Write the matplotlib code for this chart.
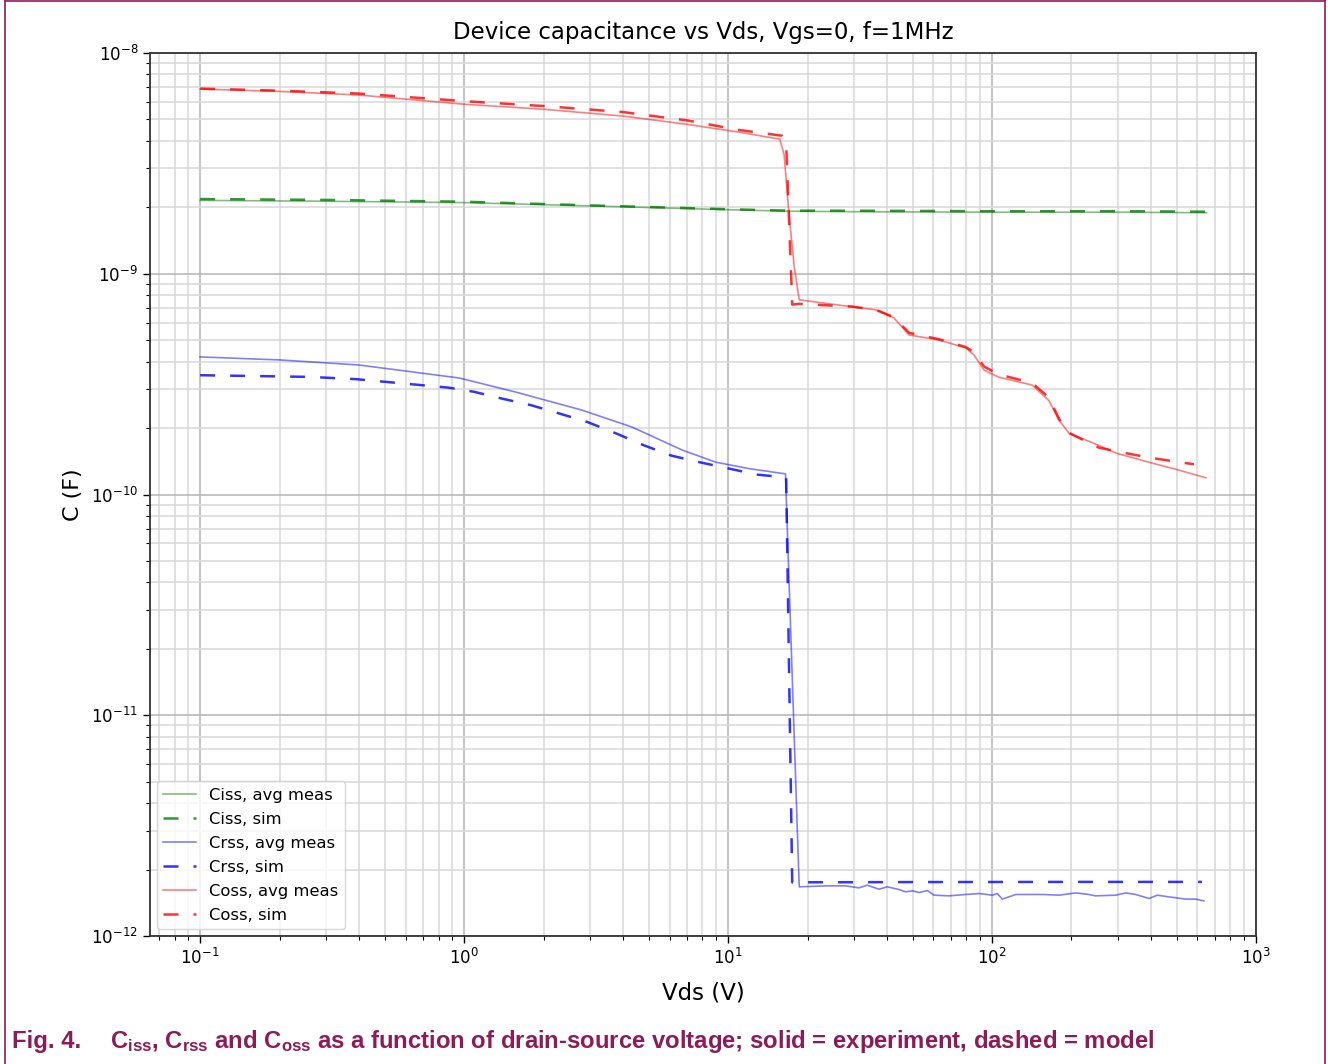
import matplotlib
matplotlib.use("Agg")
import matplotlib.pyplot as plt
from matplotlib.lines import Line2D

# ---------------- data ----------------
ciss_meas_v = [0.1, 0.3, 1.0, 3.0, 10.0, 17.0, 30.0, 100.0, 300.0, 650.0]
ciss_meas_c = [2.15e-9, 2.13e-9, 2.10e-9, 2.03e-9, 1.95e-9, 1.92e-9, 1.91e-9, 1.90e-9, 1.90e-9, 1.89e-9]
ciss_sim_v = [0.1, 0.3, 1.0, 3.0, 10.0, 17.0, 30.0, 100.0, 300.0, 650.0]
ciss_sim_c = [2.18e-9, 2.16e-9, 2.12e-9, 2.04e-9, 1.96e-9, 1.93e-9, 1.93e-9, 1.92e-9, 1.92e-9, 1.91e-9]

crss_meas_v = [0.1, 0.2, 0.4, 0.96, 1.57, 2.8, 4.33, 6.7, 9.0, 12.0, 16.5,
               18.6, 23.4, 27.9, 31.3, 33.7, 37.3, 40.1, 44.4, 47.1, 49.9, 52.9, 56.9,
               60.3, 68.7, 79.4, 89.3, 100.3, 104.7, 109.4, 123, 155, 179.5, 207.5,
               232.8, 247, 294, 320.6, 350, 393.5, 422.7, 468, 541.5, 590.6, 635]
crss_meas_c = [4.2e-10, 4.07e-10, 3.86e-10, 3.37e-10, 2.91e-10, 2.41e-10, 2.02e-10, 1.59e-10,
               1.40e-10, 1.31e-10, 1.24e-10,
               1.67e-12, 1.687e-12, 1.687e-12, 1.652e-12, 1.699e-12, 1.629e-12, 1.67e-12,
               1.624e-12, 1.585e-12, 1.602e-12, 1.574e-12, 1.607e-12, 1.531e-12, 1.52e-12,
               1.542e-12, 1.557e-12, 1.531e-12, 1.557e-12, 1.469e-12, 1.542e-12, 1.542e-12,
               1.531e-12, 1.567e-12, 1.542e-12, 1.52e-12, 1.531e-12, 1.567e-12, 1.542e-12,
               1.479e-12, 1.531e-12, 1.504e-12, 1.469e-12, 1.469e-12, 1.442e-12]
crss_sim_v = [0.1, 0.26, 0.39, 0.87, 1.09, 1.39, 1.79, 2.29, 2.93, 3.77, 4.8, 6.1, 7.8,
              10.1, 12.9, 16.0, 16.6, 17.5, 50.0, 200.0, 624.0]
crss_sim_c = [3.47e-10, 3.41e-10, 3.33e-10, 3.05e-10, 2.92e-10, 2.72e-10, 2.54e-10, 2.33e-10,
              2.13e-10, 1.89e-10, 1.67e-10, 1.50e-10, 1.40e-10, 1.31e-10, 1.23e-10, 1.20e-10,
              1.19e-10, 1.75e-12, 1.755e-12, 1.758e-12, 1.758e-12]

coss_meas_v = [0.1, 0.2, 0.4, 1.0, 2.0, 4.0, 7.0, 11.0, 15.7, 16.3, 17.0, 17.8, 18.6, 29.5,
               36.4, 42.5, 48.5, 63, 79.7, 85.5, 93.3, 106, 142, 164, 179.5, 196, 254, 295,
               393, 498, 646]
coss_meas_c = [6.86e-9, 6.7e-9, 6.45e-9, 5.86e-9, 5.56e-9, 5.18e-9, 4.75e-9, 4.38e-9, 4.07e-9,
               3.47e-9, 1.89e-9, 1.08e-9, 7.62e-10, 7.08e-10, 6.86e-10, 6.31e-10, 5.28e-10,
               5.01e-10, 4.61e-10, 4.28e-10, 3.66e-10, 3.4e-10, 3.13e-10, 2.67e-10, 2.17e-10,
               1.89e-10, 1.67e-10, 1.54e-10, 1.40e-10, 1.30e-10, 1.19e-10]
coss_sim_v = [0.1, 0.2, 0.4, 1.0, 2.0, 4.0, 7.0, 11.0, 16.0, 16.6, 17.5, 18.6, 29.5, 36.4,
              42.5, 48.5, 63, 79.7, 85.5, 93.3, 106, 142, 164, 179.5, 196, 254, 295, 393, 582]
coss_sim_c = [6.9e-9, 6.75e-9, 6.55e-9, 6.05e-9, 5.75e-9, 5.4e-9, 4.95e-9, 4.48e-9, 4.22e-9,
              3.9e-9, 7.25e-10, 7.3e-10, 7.1e-10, 6.86e-10, 6.35e-10, 5.4e-10, 5.05e-10,
              4.65e-10, 4.4e-10, 3.8e-10, 3.5e-10, 3.2e-10, 2.75e-10, 2.2e-10, 1.9e-10,
              1.63e-10, 1.57e-10, 1.47e-10, 1.37e-10]

series = [
    ("Ciss, avg meas", ciss_meas_v, ciss_meas_c, "g", "meas"),
    ("Ciss, sim", ciss_sim_v, ciss_sim_c, "g", "sim"),
    ("Crss, avg meas", crss_meas_v, crss_meas_c, "b", "meas"),
    ("Crss, sim", crss_sim_v, crss_sim_c, "b", "sim"),
    ("Coss, avg meas", coss_meas_v, coss_meas_c, "r", "meas"),
    ("Coss, sim", coss_sim_v, coss_sim_c, "r", "sim"),
]

title = "Device capacitance vs Vds, Vgs=0, f=1MHz"
xlabel = "Vds (V)"
ylabel = "C (F)"
caption_fig = "Fig. 4."
caption_text = (r"$\mathrm{C}_{\mathrm{iss}}$, $\mathrm{C}_{\mathrm{rss}}$ and "
                r"$\mathrm{C}_{\mathrm{oss}}$ as a function of drain-source voltage; "
                "solid = experiment, dashed = model")

# ---------------- figure ----------------
plt.rcParams["mathtext.rm"] = "Liberation Sans:bold"
plt.rcParams["mathtext.it"] = "Liberation Sans:bold"
plt.rcParams["mathtext.bf"] = "Liberation Sans:bold"

fig = plt.figure(figsize=(13.28, 10.64), dpi=100)
ax = fig.add_axes([150 / 1328, 128 / 1064, 1106 / 1328, 883 / 1064])

for label, v, c, col, kind in series:
    if kind == "meas":
        ax.plot(v, c, color=col, lw=1.2, alpha=0.5, label=label)
    else:
        ax.plot(v, c, color=col, lw=1.8, alpha=0.8, ls=(0, (6, 6)), label=label)

ax.set_xscale("log")
ax.set_yscale("log")
ax.set_xlim(10 ** -1.19, 1000)
ax.set_ylim(1e-12, 1e-8)
ax.grid(True, which="major", color="#b4b4b4", lw=1.1)
ax.grid(True, which="minor", color="#d8d8d8", lw=1.1)
ax.set_axisbelow(True)
ax.tick_params(which="major", labelsize=12, length=5, width=1)
ax.tick_params(which="minor", length=3, width=0.8)
for s in ax.spines.values():
    s.set_color("#333333")
    s.set_linewidth(1.3)

ax.set_title(title, fontsize=16.5, pad=10)
ax.set_xlabel(xlabel, fontsize=16.5, labelpad=10)
ax.set_ylabel(ylabel, fontsize=16, labelpad=6)

ax.legend(loc="lower left", fontsize=11.8, handlelength=2.0, labelspacing=0.55,
          borderaxespad=0.4)

cap_color = "#8e1b57"
fig.text(12 / 1328, 16 / 1064, caption_fig, fontsize=17.2, fontweight="bold",
         family="Liberation Sans", color=cap_color)
fig.text(110 / 1328, 16 / 1064, caption_text, fontsize=17.2, fontweight="bold",
         family="Liberation Sans", color=cap_color, math_fontfamily="custom")

# document border
fig.add_artist(Line2D([5 / 1328, 5 / 1328], [0, 1 - 1 / 1064], transform=fig.transFigure,
                      color=cap_color, lw=1.2))
fig.add_artist(Line2D([5 / 1328, 1325 / 1328], [1 - 1 / 1064, 1 - 1 / 1064],
                      transform=fig.transFigure, color=cap_color, lw=1.2))
fig.add_artist(Line2D([1325 / 1328, 1325 / 1328], [0, 1 - 1 / 1064], transform=fig.transFigure,
                      color=cap_color, lw=1.2))

fig.savefig("out.png", dpi=100)
